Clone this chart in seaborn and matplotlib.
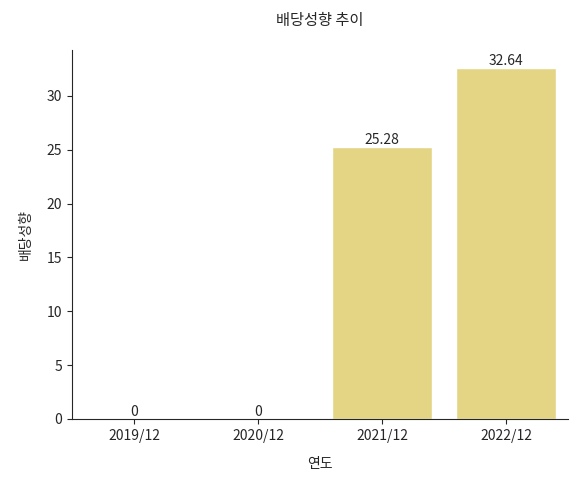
import matplotlib
matplotlib.use("Agg")
import matplotlib.pyplot as plt
import seaborn as sns
import pandas as pd

years = ["2019/12", "2020/12", "2021/12", "2022/12"]
values = [0, 0, 25.28, 32.64]

sns.set_style("ticks")
plt.rcParams['font.family'] = ['Noto Sans CJK KR', 'DejaVu Sans']

df = pd.DataFrame({"연도": years, "배당성향": values})
fig = plt.figure(figsize=(5.78, 4.79), dpi=100)
ax = fig.add_axes([72/578, 1-419/479, 496/578, 369/479])
sns.barplot(data=df, x="연도", y="배당성향", color="#e3d584", saturation=1, ax=ax)
for c in ax.containers:
    ax.bar_label(c, labels=[f"{v:g}" for v in values], fontsize=10, padding=0)
ax.set_title("배당성향 추이", fontsize=11, pad=18)
ax.set_xlabel("연도", labelpad=10)
ax.set_ylabel("배당성향", labelpad=10)
sns.despine(ax=ax)
fig.savefig("out.png", dpi=100)
